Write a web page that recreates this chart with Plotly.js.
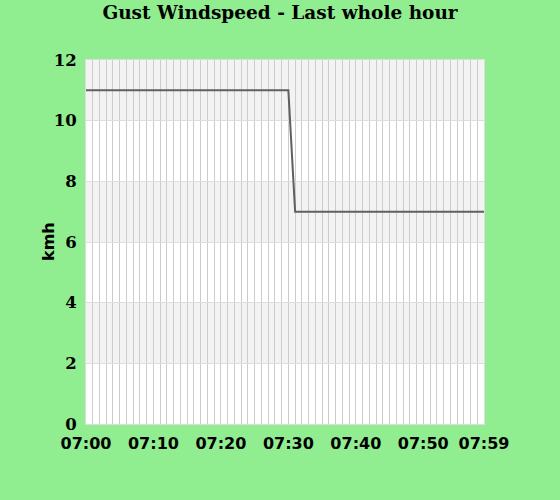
<!DOCTYPE html>
<html>
<head>
<meta charset="utf-8">
<script src="https://cdn.plot.ly/plotly-3.0.1.min.js"></script>
<style>html,body{margin:0;padding:0;background:#90ee90;}#chart{width:560px;height:500px;}</style>
</head>
<body>
<div id="chart"></div>
<script>
const minutes = [0,1,2,3,4,5,6,7,8,9,10,11,12,13,14,15,16,17,18,19,20,21,22,23,24,25,26,27,28,29,30,31,32,33,34,35,36,37,38,39,40,41,42,43,44,45,46,47,48,49,50,51,52,53,54,55,56,57,58,59];
const gustKmh = [11,11,11,11,11,11,11,11,11,11,11,11,11,11,11,11,11,11,11,11,11,11,11,11,11,11,11,11,11,11,11,7,7,7,7,7,7,7,7,7,7,7,7,7,7,7,7,7,7,7,7,7,7,7,7,7,7,7,7,7];
const tickMinutes = [0,10,20,30,40,50,59];
const tickLabels = ['07:00','07:10','07:20','07:30','07:40','07:50','07:59'];
const bandStarts = [2,6,10];

const shapes = bandStarts.map(b => ({
  type:'rect', xref:'paper', yref:'y', x0:0, x1:1, y0:b, y1:b+2,
  fillcolor:'#f3f3f3', line:{width:0}, layer:'below'
}));

Plotly.newPlot('chart', [{
  x: minutes, y: gustKmh, type:'scatter', mode:'lines',
  line:{color:'#606060', width:2}, hoverinfo:'skip'
}], {
  width:560, height:500,
  paper_bgcolor:'#90ee90', plot_bgcolor:'#ffffff',
  margin:{l:86, r:76, t:60, b:76},
  showlegend:false,
  title:{text:'Gust Windspeed - Last whole hour', x:0.5, xanchor:'center', y:0.988, yanchor:'top',
    font:{family:'DejaVu Serif', size:18.5, color:'#000', weight:'bold'}},
  xaxis:{range:[0,59], tickmode:'array', tickvals:tickMinutes, ticktext:tickLabels,
    showgrid:true, gridcolor:'#cccccc', gridwidth:1, zeroline:false,
    minor:{tickmode:'linear', tick0:0, dtick:1, showgrid:true, gridcolor:'#cccccc', gridwidth:1},
    showline:true, mirror:true, linecolor:'#dddddd', linewidth:1,
    ticks:'', ticklabelstandoff:5,
    tickfont:{family:'DejaVu Sans', size:16, color:'#000', weight:'bold'}, fixedrange:true},
  yaxis:{range:[0,12], tickmode:'linear', tick0:0, dtick:2,
    showgrid:true, gridcolor:'#dddddd', gridwidth:1, zeroline:false,
    showline:true, mirror:true, linecolor:'#dddddd', linewidth:1,
    ticks:'', ticklabelstandoff:5,
    tickfont:{family:'DejaVu Serif', size:16.5, color:'#000', weight:'bold'},
    fixedrange:true},
  annotations:[{text:'kmh', xref:'paper', yref:'paper', x:0, y:0.5, xanchor:'center', yanchor:'middle',
    xshift:-38, textangle:-90, showarrow:false,
    font:{family:'DejaVu Sans', size:16, color:'#000', weight:'bold'}}],
  shapes: shapes
}, {staticPlot:true, displayModeBar:false});
</script>
</body>
</html>
